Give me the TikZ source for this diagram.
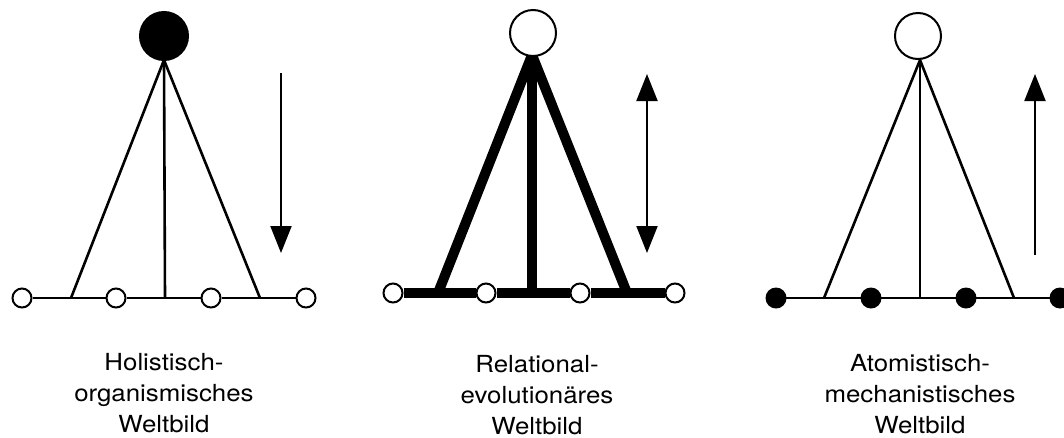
\documentclass[tikz,border=0pt]{standalone}
\usepackage{fontspec}
\setmainfont{TeX Gyre Heros}[FakeStretch=1.1]
\usetikzlibrary{arrows.meta}
\begin{document}
\begin{tikzpicture}[x=1pt,y=-1pt,
  thin line/.style={line width=2.6pt},
  thick line/.style={line width=10pt},
  topwhite/.style={circle,draw,line width=2pt,fill=white,minimum size=46pt,inner sep=0pt},
  topblack/.style={circle,draw,line width=2pt,fill=black,minimum size=48pt,inner sep=0pt},
  dotwhite/.style={circle,draw,line width=2pt,fill=white,minimum size=19pt,inner sep=0pt},
  dotblack/.style={circle,fill=black,minimum size=21pt,inner sep=0pt},
  arr/.style={line width=2pt,-{Triangle[length=27pt,width=21pt]}},
  darr/.style={line width=2pt,{Triangle[length=27pt,width=21pt]}-{Triangle[length=27pt,width=21pt]}},
  label/.style={align=center,anchor=base,font=\fontsize{23.5}{31}\selectfont}]
\useasboundingbox (0,0) rectangle (1064,437);

% ---------- Diagram 1 ----------
\coordinate (a1) at (164,60);
\coordinate (l1) at (71,298);
\coordinate (m1) at (165,298);
\coordinate (r1) at (260,298);
\node[dotwhite] (d11) at (22,298) {};
\node[dotwhite] (d12) at (116,298) {};
\node[dotwhite] (d13) at (211,298) {};
\node[dotwhite] (d14) at (306,298) {};
\draw[thin line] (d11) -- (d12) -- (d13) -- (d14);
\draw[thin line] (l1) -- (a1) -- (r1);
\draw[thin line] (a1) -- (m1);
\node[topblack] (t1) at (164,36) {};
\coordinate (p1s) at (281,73);
\coordinate (p1e) at (281,253);
\draw[arr] (p1s) -- (p1e);

% ---------- Diagram 2 ----------
\coordinate (a2) at (532,55);
\coordinate (l2) at (438,293);
\coordinate (m2) at (532,293);
\coordinate (r2) at (627,293);
\node[dotwhite] (d21) at (393,293) {};
\node[dotwhite] (d22) at (486,293) {};
\node[dotwhite] (d23) at (580,293) {};
\node[dotwhite] (d24) at (675,293) {};
\draw[thick line] (d21) -- (d22) -- (d23) -- (d24);
\draw[thick line] (l2) -- (a2) -- (r2);
\draw[thick line] (a2) -- (m2);
\node[topwhite] (t2) at (533,33) {};
\coordinate (p2s) at (647,74);
\coordinate (p2e) at (647,253);
\draw[darr] (p2s) -- (p2e);

% ---------- Diagram 3 ----------
\coordinate (a3) at (920,60);
\coordinate (l3) at (824,298);
\coordinate (m3) at (920,298);
\coordinate (r3) at (1014,298);
\coordinate (s3) at (776,298);
\coordinate (e3) at (1064,298);
\draw[thin line] (s3) -- (e3);
\draw[thin line] (l3) -- (a3) -- (r3);
\draw[thin line] (a3) -- (m3);
\node[dotblack] (d31) at (776,298) {};
\node[dotblack] (d32) at (871,298) {};
\node[dotblack] (d33) at (966,298) {};
\node[dotblack] (d34) at (1060,298) {};
\node[topwhite] (t3) at (918,36) {};
\coordinate (p3s) at (1035,255);
\coordinate (p3e) at (1035,74);
\draw[arr] (p3s) -- (p3e);

% ---------- Labels (anchor = baseline of last line) ----------
\node[label] (L1) at (164,432) {Holistisch-\\organismisches\\Weltbild};
\node[label] (L2) at (537,434) {Relational-\\evolutionäres\\Weltbild};
\node[label] (L3) at (920,433) {Atomistisch-\\mechanistisches\\Weltbild};
\end{tikzpicture}
\end{document}
